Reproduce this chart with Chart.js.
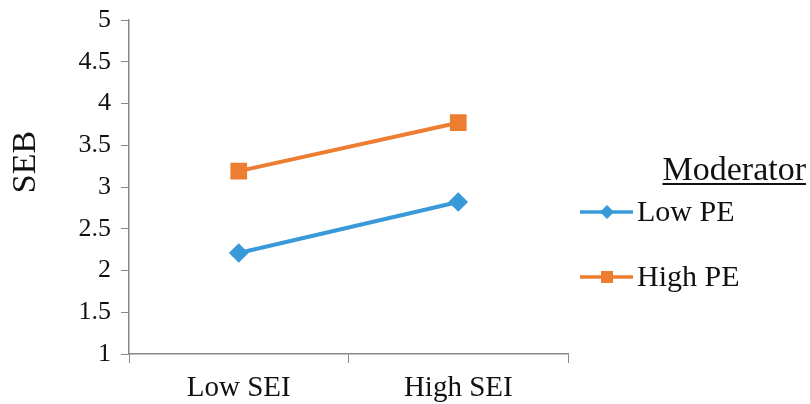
<!DOCTYPE html>
<html>
<head>
<meta charset="utf-8">
<script src="https://cdn.jsdelivr.net/npm/chart.js@4"></script>
<style>
  html, body { margin: 0; padding: 0; background: #fff; }
  #wrap { width: 810px; height: 404px; }
</style>
</head>
<body>
<div id="wrap"><canvas id="grafico" width="810" height="404"></canvas></div>
<script>
// dati
const categorie = ['Low SEI', 'High SEI'];
const lowPE = [2.21, 2.82];
const highPE = [3.19, 3.77];
const nomiSerie = ['Low PE', 'High PE'];
const titoloLegenda = 'Moderator';
const titoloAsseY = 'SEB';

const BLU = '#3a9ad9';
const ARANCIO = '#ed7d31';
const GRIGIO = '#888888';
const FONT = '"Liberation Serif", "Times New Roman", serif';

// legenda disegnata a mano (titolo sottolineato, linea con marker) + titolo asse Y
const legendaPlugin = {
    id: 'legendaModeratore',
    afterDraw(chart) {
        const ctx = chart.ctx;
        ctx.save();
        ctx.fillStyle = '#111';

        // titolo asse Y, ruotato
        ctx.save();
        ctx.translate(26, 162);
        ctx.rotate(-Math.PI / 2);
        ctx.font = '34px ' + FONT;
        ctx.textAlign = 'center';
        ctx.textBaseline = 'middle';
        ctx.fillText(titoloAsseY, 0, 0);
        ctx.restore();

        ctx.font = '34px ' + FONT;
        ctx.textAlign = 'right';
        ctx.textBaseline = 'alphabetic';
        const tx = 806, ty = 180;
        ctx.fillText(titoloLegenda, tx, ty);
        const w = ctx.measureText(titoloLegenda).width;
        ctx.fillRect(tx - w, ty + 3, w, 2);

        ctx.textAlign = 'left';
        ctx.font = '30px ' + FONT;
        ctx.textBaseline = 'middle';
        chart.data.datasets.forEach((ds, i) => {
            const y = 212 + i * 65;
            ctx.strokeStyle = ds.borderColor;
            ctx.lineWidth = 3.5;
            ctx.beginPath();
            ctx.moveTo(580, y);
            ctx.lineTo(633, y);
            ctx.stroke();
            ctx.fillStyle = ds.borderColor;
            if (ds.pointStyle === 'rect') {
                ctx.fillRect(601, y - 6, 12, 12);
            } else {
                ctx.beginPath();
                ctx.moveTo(607, y - 7);
                ctx.lineTo(614, y);
                ctx.lineTo(607, y + 7);
                ctx.lineTo(600, y);
                ctx.closePath();
                ctx.fill();
            }
            ctx.fillStyle = '#111';
            ctx.fillText(ds.label, 637, y + 1);
        });
        ctx.restore();
    }
};

function creaGrafico() {
    const ctx = document.getElementById('grafico').getContext('2d');
    new Chart(ctx, {
        type: 'line',
        data: {
            labels: categorie,
            datasets: [
                {
                    label: nomiSerie[0],
                    data: lowPE,
                    borderColor: BLU,
                    backgroundColor: BLU,
                    borderWidth: 4,
                    pointStyle: 'rectRot',
                    pointRadius: 7,
                    pointHoverRadius: 7
                },
                {
                    label: nomiSerie[1],
                    data: highPE,
                    borderColor: ARANCIO,
                    backgroundColor: ARANCIO,
                    borderWidth: 4,
                    pointStyle: 'rect',
                    pointRadius: 9,
                    pointHoverRadius: 9
                }
            ]
        },
        options: {
            responsive: false,
            animation: false,
            layout: { padding: { top: 20, right: 242, left: 0, bottom: 0 } },
            plugins: {
                legend: { display: false },
                tooltip: { enabled: false }
            },
            scales: {
                x: {
                    offset: true,
                    grid: {
                        offset: true,
                        drawOnChartArea: false,
                        drawTicks: true,
                        tickLength: 9,
                        color: GRIGIO
                    },
                    border: { display: true, color: GRIGIO, width: 1.5 },
                    ticks: {
                        color: '#111',
                        padding: 8,
                        font: { family: FONT, size: 29 }
                    },
                    afterFit(scale) {
                        scale.height = 50;
                        scale.paddingLeft = 0;
                        scale.paddingRight = 0;
                    }
                },
                y: {
                    min: 1,
                    max: 5,
                    grid: {
                        drawOnChartArea: false,
                        drawTicks: true,
                        tickLength: 8,
                        color: GRIGIO
                    },
                    border: { display: true, color: GRIGIO, width: 1.5 },
                    ticks: {
                        stepSize: 0.5,
                        color: '#111',
                        padding: 10,
                        font: { family: FONT, size: 26 },
                        callback: (v) => String(v)
                    },
                    afterFit(scale) {
                        scale.width = 129;
                        scale.paddingTop = 0;
                        scale.paddingBottom = 0;
                    }
                }
            }
        },
        plugins: [legendaPlugin]
    });
}

document.addEventListener('DOMContentLoaded', () => {
    creaGrafico();
});
</script>
</body>
</html>
